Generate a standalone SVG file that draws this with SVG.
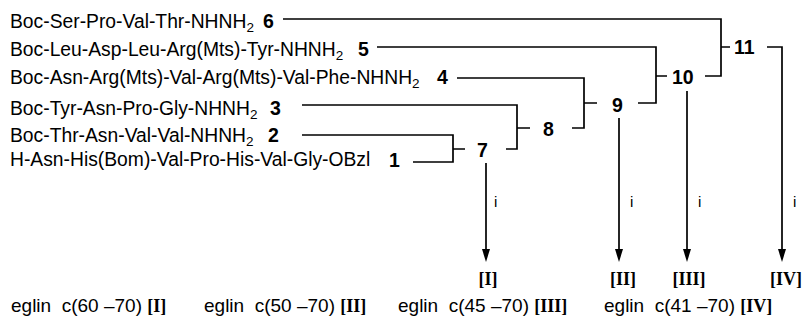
<svg xmlns="http://www.w3.org/2000/svg" width="802" height="328" viewBox="0 0 802 328">
<style>
.pep{font-family:"Liberation Sans",Arial,sans-serif;font-size:19.3px;fill:#000}
.num{font-family:"Liberation Sans",Arial,sans-serif;font-size:19.5px;font-weight:bold;fill:#000}
.sub{font-size:13.5px}
.rn{font-family:"Liberation Serif","Times New Roman",serif;font-weight:bold;font-size:18px;fill:#000}
.cap{font-family:"Liberation Sans",Arial,sans-serif;font-size:19px;fill:#000}
.cond{font-family:"Liberation Sans",Arial,sans-serif;font-size:15px;fill:#000}
.ln{fill:none;stroke:#000;stroke-width:1.7}
</style>
<defs>
<marker id="ah" viewBox="0 -4 13 8" refX="0" refY="0" markerWidth="13" markerHeight="8" markerUnits="userSpaceOnUse" orient="auto">
<path d="M0,-4 L13,0 L0,4 z" fill="#000"/>
</marker>
</defs>
<g id="n6"><text class="pep" x="10" y="28">Boc-Ser-Pro-Val-Thr-NHNH<tspan class="sub" dy="4">2</tspan></text><text class="num" x="263" y="28">6</text></g>
<g id="n5"><text class="pep" x="10" y="56">Boc-Leu-Asp-Leu-Arg(Mts)-Tyr-NHNH<tspan class="sub" dy="4">2</tspan></text><text class="num" x="358" y="56">5</text></g>
<g id="n4"><text class="pep" x="10" y="84">Boc-Asn-Arg(Mts)-Val-Arg(Mts)-Val-Phe-NHNH<tspan class="sub" dy="4">2</tspan></text><text class="num" x="437" y="84">4</text></g>
<g id="n3"><text class="pep" x="10" y="115">Boc-Tyr-Asn-Pro-Gly-NHNH<tspan class="sub" dy="4">2</tspan></text><text class="num" x="270" y="115">3</text></g>
<g id="n2"><text class="pep" x="10" y="142">Boc-Thr-Asn-Val-Val-NHNH<tspan class="sub" dy="4">2</tspan></text><text class="num" x="268" y="142">2</text></g>
<g id="n1"><text class="pep" x="10" y="166">H-Asn-His(Bom)-Val-Pro-His-Val-Gly-OBzl</text><text class="num" x="389" y="167">1</text></g>
<g id="n7"><text class="num" x="477" y="157">7</text></g>
<g id="n8"><text class="num" x="543" y="136">8</text></g>
<g id="n9"><text class="num" x="612" y="112">9</text></g>
<g id="n10"><text class="num" x="672" y="84">10</text></g>
<g id="n11"><text class="num" x="734" y="54">11</text></g>
<g id="pI"><text class="rn" x="488" y="285" text-anchor="middle">[I]</text></g>
<g id="pII"><text class="rn" x="623" y="285" text-anchor="middle">[II]</text></g>
<g id="pIII"><text class="rn" x="689" y="285" text-anchor="middle">[III]</text></g>
<g id="pIV"><text class="rn" x="786" y="285" text-anchor="middle">[IV]</text></g>
<g id="connectors">
<path class="ln" d="M302,135 H453 V162 H413 M453,149 H465"/>
<path class="ln" d="M302,105 H517 V149 H506 M517,128 H530"/>
<path class="ln" d="M457,78 H584 V128 H572 M584,103 H597"/>
<path class="ln" d="M377,47 H656 V103 H638 M656,76 H667"/>
<path class="ln" d="M283,19 H721 V76 H705 M721,47 H730"/>
<path class="ln" d="M767,47 H782 V249" marker-end="url(#ah)"/>
<path class="ln" d="M486,163 V249" marker-end="url(#ah)"/>
<path class="ln" d="M619,118 V249" marker-end="url(#ah)"/>
<path class="ln" d="M687,91 V249" marker-end="url(#ah)"/>
<text class="cond" x="494" y="207">i</text>
<text class="cond" x="630" y="207">i</text>
<text class="cond" x="698" y="207">i</text>
<text class="cond" x="793" y="207">i</text>
</g>
<g id="captions">
<text class="cap" x="11" y="312" xml:space="preserve">eglin  c(60 –70) <tspan class="rn">[I]</tspan></text>
<text class="cap" x="204" y="312" xml:space="preserve">eglin  c(50 –70) <tspan class="rn">[II]</tspan></text>
<text class="cap" x="398" y="312" xml:space="preserve">eglin  c(45 –70) <tspan class="rn">[III]</tspan></text>
<text class="cap" x="604" y="312" xml:space="preserve">eglin  c(41 –70) <tspan class="rn">[IV]</tspan></text>
</g>
</svg>
